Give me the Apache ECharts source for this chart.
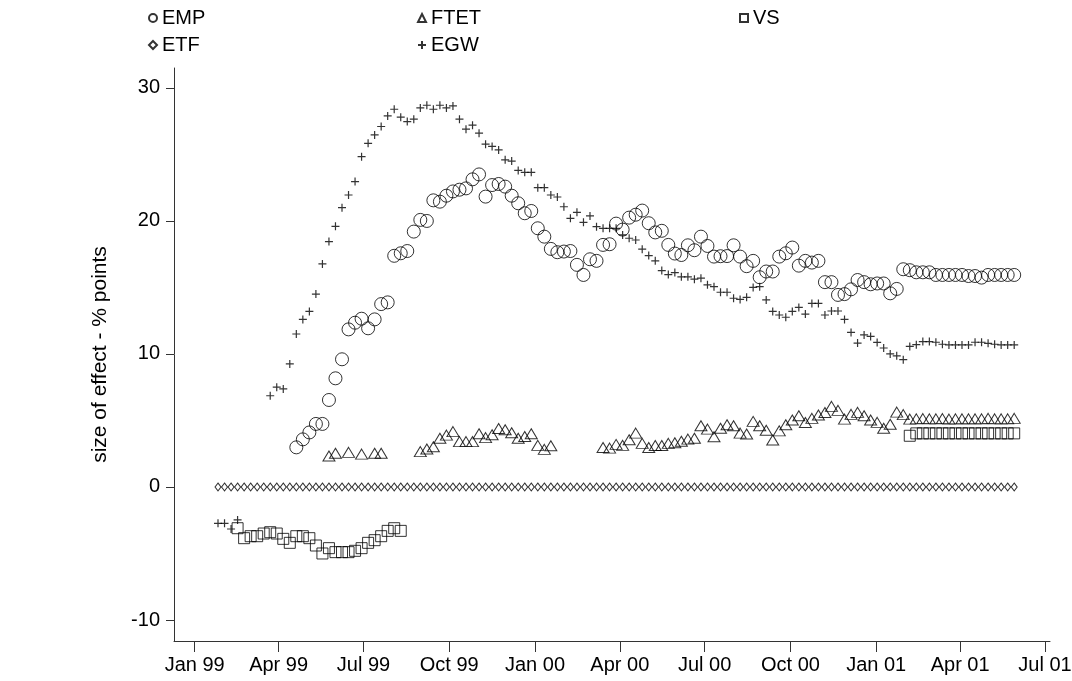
<!DOCTYPE html>
<html><head><meta charset="utf-8">
<script src="https://cdn.jsdelivr.net/npm/echarts@6/dist/echarts.min.js"></script>
<style>html,body{margin:0;padding:0;background:#fff}#c{width:1072px;height:681px}</style>
</head><body><div id="c"></div>
<script>
// weekly observations, first one on this date, one week apart
const startDate = '1999-01-26';
const stepDays = 7;
const tickLabels = ['Jan 99','Apr 99','Jul 99','Oct 99','Jan 00','Apr 00','Jul 00','Oct 00','Jan 01','Apr 01','Jul 01'];
const tickDates = ['1999-01-01','1999-04-01','1999-07-01','1999-10-01','2000-01-01','2000-04-01','2000-07-01','2000-10-01','2001-01-01','2001-04-01','2001-07-01'];
const yTicks = [-10, 0, 10, 20, 30];

const EMP = [null,null,null,null,null,null,null,null,null,null,null,null,
 2.98,3.58,4.1,4.74,4.74,6.54,8.17,9.6,11.85,12.35,12.65,11.93,12.6,13.75,13.88,17.38,17.57,17.74,
 19.2,20.08,20.0,21.55,21.45,21.9,22.22,22.35,22.45,23.13,23.5,21.83,22.7,22.78,22.58,21.9,21.33,20.58,20.75,19.45,
 18.82,17.9,17.65,17.7,17.74,16.7,15.94,17.12,17.0,18.2,18.25,19.8,19.35,20.25,20.47,20.78,19.83,19.14,19.26,18.2,
 17.55,17.44,18.17,17.8,18.82,18.12,17.32,17.35,17.36,18.17,17.32,16.6,17.0,15.77,16.2,16.2,17.32,17.57,18.0,16.64,
 17.0,16.87,17.0,15.4,15.4,14.44,14.5,14.86,15.56,15.4,15.24,15.3,15.3,14.56,14.89,16.37,16.3,16.14,16.14,16.14,
 15.94,15.94,15.94,15.94,15.94,15.86,15.86,15.74,15.94,15.94,15.94,15.94,15.94];

const FTET = [null,null,null,null,null,null,null,null,null,null,null,null,null,null,null,null,null,
 2.33,2.53,null,2.6,null,2.47,null,2.53,2.53,null,null,null,null,null,
 2.66,2.86,3.03,3.66,3.9,4.16,3.41,3.41,3.41,4.0,3.71,3.93,4.4,4.3,4.08,3.66,3.8,4.0,3.13,2.83,3.1,
 null,null,null,null,null,null,null,
 2.97,2.92,3.2,3.13,3.55,4.05,3.28,2.97,3.12,3.12,3.28,3.32,3.44,3.6,3.66,4.6,4.35,3.78,4.41,4.68,4.6,
 4.05,3.98,4.93,4.6,4.26,3.53,4.22,4.68,5.04,5.35,4.85,5.16,5.41,5.6,6.06,5.76,5.1,5.46,5.61,5.36,5.04,4.86,4.41,4.72,5.63,5.44,5.1,
 5.12,5.14,5.12,5.12,5.14,5.1,5.12,5.12,5.12,5.12,5.12,5.16,5.12,5.12,5.12,5.16];

const VS = [null,null,null,
 -3.1,-3.85,-3.7,-3.7,-3.5,-3.4,-3.5,-3.9,-4.2,-3.7,-3.7,-3.85,-4.4,-5.0,-4.6,-4.9,-4.9,-4.9,-4.8,-4.6,-4.2,-4.0,-3.7,-3.3,-3.1,-3.3,
 null,null,null,null,null,null,null,null,null,null,null,null,null,null,null,null,null,null,null,null,
 null,null,null,null,null,null,null,null,null,null,null,null,null,null,null,null,null,null,null,null,
 null,null,null,null,null,null,null,null,null,null,null,null,null,null,null,null,null,null,null,null,
 null,null,null,null,null,null,null,null,null,null,null,null,null,null,null,null,null,
 3.85,4.03,4.03,4.03,4.03,4.03,4.03,4.03,4.03,4.03,4.03,4.03,4.03,4.03,4.03,4.03,4.03];

const ETF = [0,0,0,0,0,0,0,0,0,0,0,0,0,0,0,0,0,0,0,0,0,0,0,0,0,0,0,0,0,0,
 0,0,0,0,0,0,0,0,0,0,0,0,0,0,0,0,0,0,0,0,0,0,0,0,0,0,0,0,0,0,
 0,0,0,0,0,0,0,0,0,0,0,0,0,0,0,0,0,0,0,0,0,0,0,0,0,0,0,0,0,0,
 0,0,0,0,0,0,0,0,0,0,0,0,0,0,0,0,0,0,0,0,0,0,0,0,0,0,0,0,0,0,
 0,0,0];

const EGW = [-2.73,-2.73,-3.16,-2.48,null,null,null,null,
 6.86,7.5,7.37,9.25,11.5,12.6,13.2,14.5,16.77,18.45,19.6,21.0,21.95,22.96,24.83,25.84,26.47,27.1,27.9,28.4,27.8,27.47,
 27.65,28.5,28.7,28.4,28.7,28.5,28.65,27.65,26.9,27.2,26.6,25.77,25.6,25.34,24.6,24.5,23.8,23.66,23.66,22.5,
 22.5,21.95,21.8,21.07,20.2,20.65,19.9,20.38,19.57,19.45,19.45,19.45,18.95,18.7,18.57,17.88,17.4,17.0,16.27,15.97,
 16.12,15.8,15.8,15.62,15.7,15.2,15.06,14.64,14.64,14.19,14.1,14.26,15.0,15.06,14.06,13.2,12.93,12.76,13.2,13.5,
 13.0,13.8,13.8,12.93,13.23,13.23,12.6,11.62,10.82,11.43,11.32,10.87,10.45,10.0,9.86,9.57,10.57,10.7,10.93,10.93,
 10.88,10.73,10.68,10.68,10.68,10.68,10.88,10.88,10.8,10.73,10.68,10.68,10.68];

function dayNum(s){ const p = s.split('-').map(Number); return (Date.UTC(p[0],p[1]-1,p[2]) - Date.UTC(1999,0,1)) / 86400000; }
const x0 = dayNum(startDate);
const tickDays = tickDates.map(dayNum);
function pts(arr){ const out=[]; arr.forEach((v,i)=>{ if(v!==null) out.push([x0+stepDays*i, v]); }); return out; }

const PLUS = 'path://M0,5L10,5M5,0L5,10';
const hollow = {color:'rgba(0,0,0,0)', borderColor:'#000', borderWidth:1};
const FONT = 'Liberation Sans, Arial, sans-serif';
const FS = 20;

const chart = echarts.init(document.getElementById('c'), null, {renderer:'canvas'});
function leg(name, left, top){
  return {data:[name], left:left, top:top, orient:'horizontal', selectedMode:false,
    itemWidth:8, itemHeight:8, itemGap:4, padding:0,
    textStyle:{fontFamily:FONT, fontSize:FS, color:'#000'}};
}
chart.setOption({
  animation:false,
  backgroundColor:'#fff',
  grid:{left:174, right:22, top:68, bottom:40, outerBoundsMode:'none'},
  legend:[leg('EMP',148,8), leg('FTET',417,8), leg('VS',739,8), leg('ETF',148,35), leg('EGW',417,35)],
  xAxis:{type:'value', min:-22.2, max:917.4,
    axisLine:{show:true, onZero:false, lineStyle:{color:'#333', width:1}},
    axisTick:{show:true, length:11, customValues:tickDays, lineStyle:{color:'#333'}},
    axisLabel:{customValues:tickDays, fontFamily:FONT, fontSize:FS, color:'#000', margin:14,
      formatter:function(v){ const k=tickDays.indexOf(v); return k>=0?tickLabels[k]:''; }},
    splitLine:{show:false}},
  yAxis:{type:'value', min:-11.58, max:31.5,
    name:'size of effect - % points', nameLocation:'middle', nameGap:63, nameRotate:90,
    nameTextStyle:{fontFamily:FONT, fontSize:21, color:'#000'},
    axisLine:{show:true, onZero:false, lineStyle:{color:'#333', width:1}},
    axisTick:{show:true, length:8, customValues:yTicks, lineStyle:{color:'#333'}},
    axisLabel:{customValues:yTicks, fontFamily:FONT, fontSize:FS, color:'#000', margin:14},
    splitLine:{show:false}},
  series:[
    {name:'EMP', type:'scatter', symbol:'circle', symbolSize:13, itemStyle:hollow, data:pts(EMP)},
    {name:'FTET', type:'scatter', symbol:'triangle', symbolSize:[12,10], itemStyle:hollow, data:pts(FTET)},
    {name:'VS', type:'scatter', symbol:'rect', symbolSize:11, itemStyle:hollow, data:pts(VS)},
    {name:'ETF', type:'scatter', symbol:'diamond', symbolSize:[6,8], itemStyle:hollow, data:pts(ETF)},
    {name:'EGW', type:'scatter', symbol:PLUS, symbolSize:8, itemStyle:{color:'rgba(0,0,0,0)', borderColor:'#000', borderWidth:1.2}, data:pts(EGW)}
  ]
});
</script></body></html>
